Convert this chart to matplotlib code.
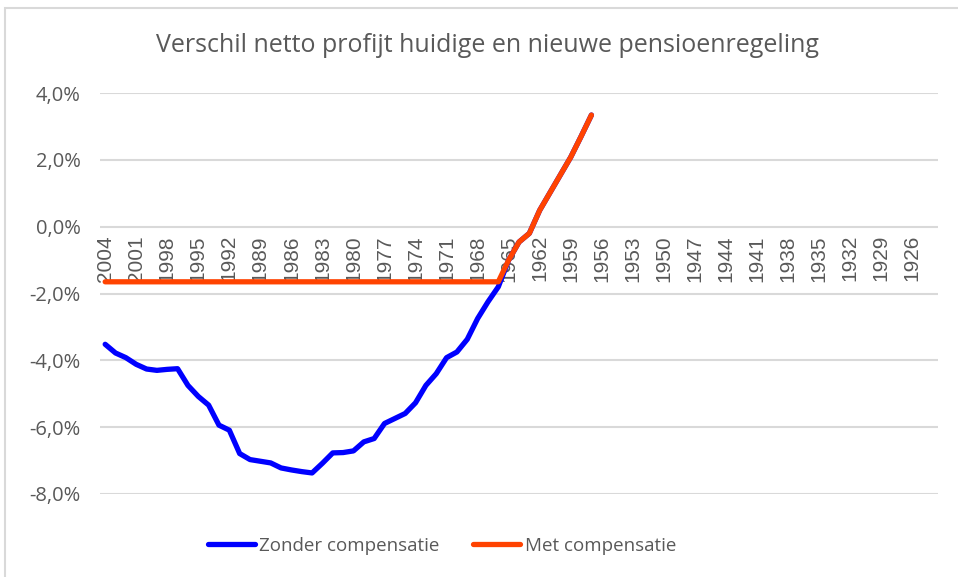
import numpy as np
import matplotlib
matplotlib.use("Agg")
import matplotlib.pyplot as plt
from matplotlib.patches import Rectangle
from matplotlib.ticker import FuncFormatter

years = list(range(2004, 1923, -1))  # 2004 .. 1924
zonder = [-3.52, -3.78, -3.92, -4.12, -4.26, -4.30, -4.27, -4.25, -4.75, -5.08,
          -5.34, -5.94, -6.09, -6.79, -6.97, -7.02, -7.07, -7.22, -7.28, -7.33,
          -7.37, -7.08, -6.77, -6.76, -6.71, -6.44, -6.34, -5.89, -5.74, -5.59,
          -5.27, -4.75, -4.40, -3.92, -3.75, -3.37, -2.75, -2.25, -1.80, -1.00,
          -0.46, -0.20, 0.49, 1.02, 1.55, 2.08, 2.70, 3.34]
met = [-1.65] * 39 + [-1.00, -0.46, -0.20, 0.49, 1.02, 1.55, 2.08, 2.70, 3.34]
title = "Verschil netto profijt huidige en nieuwe pensioenregeling"
series_names = ["Zonder compensatie", "Met compensatie"]
yticks = [4, 2, 0, -2, -4, -6, -8]

n = len(years)
zonder_full = np.array(zonder + [np.nan] * (n - len(zonder)))
met_full = np.array(met + [np.nan] * (n - len(met)))
x = np.arange(n)

W, H = 958, 577
fig = plt.figure(figsize=(W / 100, H / 100), dpi=100)
fig.patch.set_facecolor("white")

# outer chart border (only left/top visible)
fig.patches.append(Rectangle((5 / W, -0.1), 1.2, 1 - 8 / H + 0.1, transform=fig.transFigure,
                             fill=False, edgecolor="#d9d9d9", linewidth=1.5))

ax = fig.add_axes([100 / W, 1 - 494 / H, 838 / W, 401 / H])
ax.set_xlim(-0.5, n - 0.5)
ax.set_ylim(-8, 4)

text_color = "#595959"
main_font = ["Open Sans", "DejaVu Sans"]

ax.set_yticks(yticks)
ax.yaxis.set_major_formatter(FuncFormatter(lambda v, p: f"{v:.1f}%".replace(".", ",")))
ax.grid(axis="y", color="#d9d9d9", linewidth=1.5)
ax.set_axisbelow(True)
for s in ["top", "right", "left"]:
    ax.spines[s].set_visible(False)
ax.spines["bottom"].set_position(("data", 0))
ax.spines["bottom"].set_visible(False)
ax.tick_params(axis="y", length=0, pad=14, labelcolor=text_color, labelsize=14.5)
for lab in ax.get_yticklabels():
    lab.set_family(main_font)

tick_idx = x[::3]
ax.set_xticks(tick_idx)
ax.set_xticklabels([str(years[i]) for i in tick_idx], rotation=90,
                   fontfamily="Liberation Sans", fontsize=15, color=text_color)
ax.tick_params(axis="x", length=0, pad=6)

l1, = ax.plot(x, zonder_full, color="#0000ff", linewidth=3.8, solid_capstyle="round",
              solid_joinstyle="round", zorder=3)
l2, = ax.plot(x, met_full, color="#ff4301", linewidth=3.8, solid_capstyle="round",
              solid_joinstyle="round", zorder=4)

fig.text(487 / W, 1 - 46 / H, title, ha="center", va="center", fontsize=18,
         color=text_color, family=main_font)

leg = fig.legend([l1, l2], series_names, loc="center", bbox_to_anchor=(442 / W, 1 - 546 / H),
                 ncol=2, frameon=False, handlelength=2.5, handletextpad=0.25,
                 columnspacing=1.8, prop={"family": main_font, "size": 13.5})
for t in leg.get_texts():
    t.set_color(text_color)

fig.savefig("out.png", dpi=100, facecolor="white")
